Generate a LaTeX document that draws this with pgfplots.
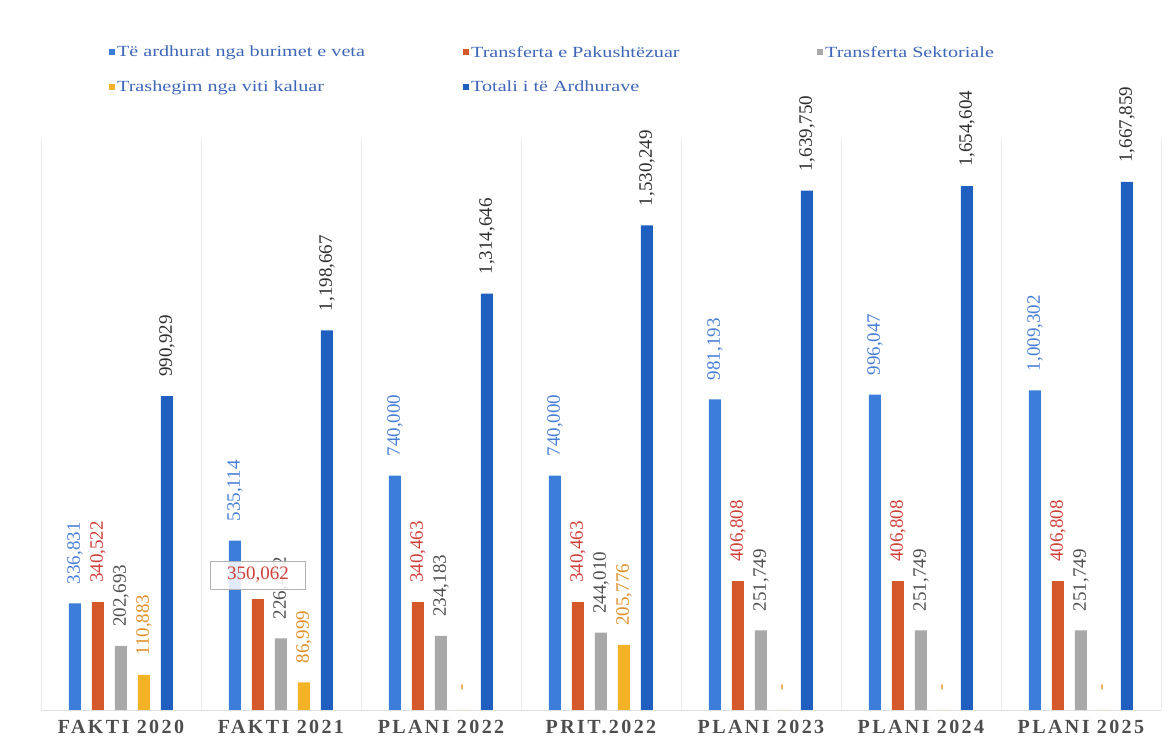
\documentclass[border=0pt]{standalone}
\usepackage{fontspec}
\setmainfont{Liberation Serif}
\newfontfamily\legfont[FakeStretch=1.3]{Liberation Serif}
\usepackage{pgfplots}
\usepackage{pgfplotstable}
\pgfplotsset{compat=1.18}
\pgfplotsset{sqleg/.style={legend image code/.code={\fill[##1] (0pt,-3pt) rectangle (6pt,3pt);}}}
\definecolor{cA}{HTML}{3B7DD8}
\definecolor{cB}{HTML}{D4582A}
\definecolor{cC}{HTML}{A8A8A8}
\definecolor{cD}{HTML}{F4B226}
\definecolor{cE}{HTML}{1F5FBF}
\definecolor{lA}{HTML}{4A7FD6}
\definecolor{lB}{HTML}{D0403A}
\definecolor{lC}{HTML}{505050}
\definecolor{lD}{HTML}{E0902A}
\definecolor{lE}{HTML}{303030}
\definecolor{legtxt}{HTML}{3E66B8}
\definecolor{ticktxt}{HTML}{4D4D4D}

\pgfplotstableread{
x a al b bl c cl d dl e el
0 336831 336,831 340522 340,522 202693 202,693 110883 110,883 990929 990,929
1 535114 535,114 350062 {} 226472 226,472 86999 86,999 1198667 1,198,667
2 740000 740,000 340463 340,463 234183 234,183 0 - 1314646 1,314,646
3 740000 740,000 340463 340,463 244010 244,010 205776 205,776 1530249 1,530,249
4 981193 981,193 406808 406,808 251749 251,749 0 - 1639750 1,639,750
5 996047 996,047 406808 406,808 251749 251,749 0 - 1654604 1,654,604
6 1009302 1,009,302 406808 406,808 251749 251,749 0 - 1667859 1,667,859
}\datatable

\begin{document}
\begin{tikzpicture}
\useasboundingbox (0,0) rectangle (1171pt,743pt);
\begin{axis}[
  at={(41pt,33pt)}, anchor=south west,
  scale only axis, width=1120pt, height=570pt,
  xmin=-0.5, xmax=6.5, ymin=0, ymax=1800000,
  ybar=11pt, bar width=12pt,
  axis x line*=bottom, axis y line=none,
  x axis line style={draw=gray!25},
  xtick={0,...,6},
  xticklabels={FAKTI 2020,FAKTI 2021,PLANI 2022,PRIT.2022,PLANI 2023,PLANI 2024,PLANI 2025},
  xticklabel style={font=\fontsize{20}{22}\selectfont\bfseries\addfontfeature{LetterSpace=12}, text=ticktxt, yshift=-7pt},
  major tick length=0pt, minor tick length=0pt,
  minor xtick={-0.5,0.5,...,6.5},
  xminorgrids, minor grid style={draw=gray!15, line width=0.8pt},
  ytick=\empty,
  point meta=explicit symbolic,
  nodes near coords,
  nodes near coords style={rotate=90, anchor=west, inner xsep=19pt, inner ysep=0pt, font=\fontsize{19}{20}\selectfont},
  legend columns=3,
  legend style={at={(axis description cs:0.058,1.172)}, anchor=north west, draw=none, fill=none,
    font=\legfont\fontsize{15.5}{17}\selectfont\color{legtxt}, row sep=18pt,
    /tikz/every even column/.append style={column sep=0pt}},
  legend cell align=left,
  clip=false,
]
\addplot[fill=cA, draw=none, every node near coord/.append style={text=lA}, sqleg]
  table[x=x, y=a, meta=al] {\datatable};
\addlegendentry{\makebox[344pt][l]{Të ardhurat nga burimet e veta}}
\addplot[fill=cB, draw=none, every node near coord/.append style={text=lB}, sqleg]
  table[x=x, y=b, meta=bl] {\datatable};
\addlegendentry{\makebox[344pt][l]{Transferta e Pakushtëzuar}}
\addplot[fill=cC, draw=none, every node near coord/.append style={text=lC}, sqleg]
  table[x=x, y=c, meta=cl] {\datatable};
\addlegendentry{\makebox[200pt][l]{Transferta Sektoriale}}
\addplot[fill=cD, draw=none, every node near coord/.append style={text=lD}, sqleg]
  table[x=x, y=d, meta=dl] {\datatable};
\addlegendentry{\makebox[344pt][l]{Trashegim nga viti kaluar}}
\addplot[fill=cE, draw=none, every node near coord/.append style={text=lE}, sqleg]
  table[x=x, y=e, meta=el] {\datatable};
\addlegendentry{\makebox[344pt][l]{Totali i të Ardhurave}}
\coordinate (boxc) at (axis cs:1,350062);
\end{axis}
\node[draw=gray!60, fill=white, fill opacity=0.85, text opacity=1, text=lB,
  font=\fontsize{19}{20}\selectfont, inner sep=3pt, minimum height=28pt, minimum width=95pt,
  xshift=-23pt, yshift=24pt] at (boxc) {350,062};
\end{tikzpicture}
\end{document}
